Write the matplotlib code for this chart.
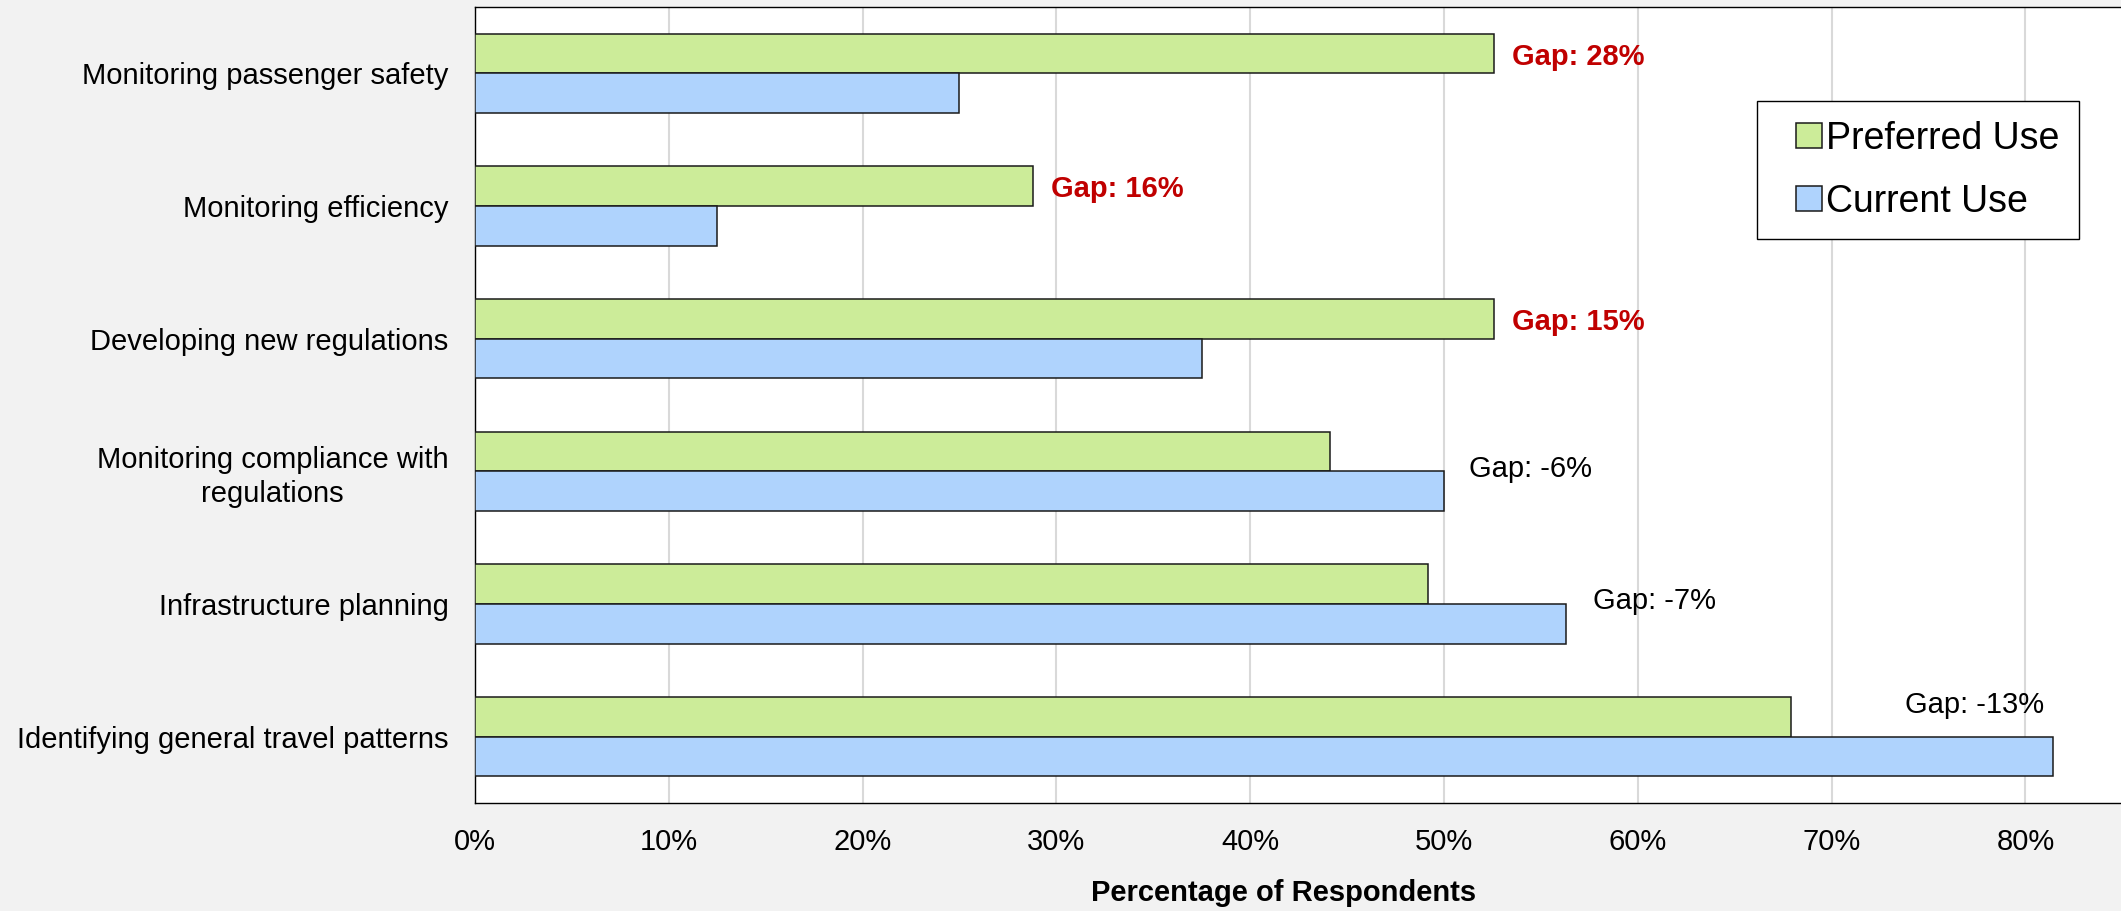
import numpy as np
import matplotlib
matplotlib.use('Agg')
import matplotlib.pyplot as plt
from matplotlib.patches import Rectangle
from matplotlib.container import BarContainer
from matplotlib.legend_handler import HandlerPatch, update_from_first_child

# chart data
categories = ['Monitoring passenger safety', 'Monitoring efficiency', 'Developing new regulations',
              'Monitoring compliance with\nregulations', 'Infrastructure planning',
              'Identifying general travel patterns']
preferredUse = [0.526, 0.288, 0.526, 0.441, 0.492, 0.679]
currentUse = [0.250, 0.125, 0.375, 0.500, 0.563, 0.814]
xticks = [0.0, 0.1, 0.2, 0.3, 0.4, 0.5, 0.6, 0.7, 0.8]
xticklabels = ['0%', '10%', '20%', '30%', '40%', '50%', '60%', '70%', '80%']

# where the gap labels sit, relative to the longer bar and the category centre
labelDx = [0.009, 0.009, 0.009, 0.013, 0.014, -0.076]
labelDy = [-0.125, -0.125, -0.125, -0.015, -0.025, -0.235]

# plot settings
greenColor = '#CCEC99'
blueColor = '#AFD3FD'
edgeColor = '#1a1a1a'
gapColor = '#C00000'
barHeight = 0.30
fontSize = 21
legendSize = 27

plt.rcParams['font.family'] = ['Liberation Sans', 'DejaVu Sans']


def squarePatch(legend, orig_handle, xdescent, ydescent, width, height, fontsize):
    # small square at the right end of the handle box
    s = 0.67 * fontsize
    return Rectangle((width - s - xdescent, (height - s) / 2 - ydescent), s, s)


fig = plt.figure(figsize=(21.21, 9.11), dpi=100, facecolor='#F2F2F2')
ax = fig.add_axes([0.2239, 0.1186, 0.7762, 0.8737])
ax.set_facecolor('white')

y = np.arange(len(categories))
ax.barh(y - barHeight / 2, preferredUse, height=barHeight, color=greenColor,
        edgecolor=edgeColor, linewidth=1.1, label='Preferred Use', zorder=3)
ax.barh(y + barHeight / 2, currentUse, height=barHeight, color=blueColor,
        edgecolor=edgeColor, linewidth=1.1, label='Current Use', zorder=3)

# gap labels
for i in range(len(categories)):
    gap = round((preferredUse[i] - currentUse[i]) * 100)
    xpos = max(preferredUse[i], currentUse[i]) + labelDx[i]
    if gap > 0:
        ax.text(xpos, y[i] + labelDy[i], 'Gap: ' + str(gap) + '%', color=gapColor,
                fontweight='bold', fontsize=fontSize, va='center', ha='left', zorder=4)
    else:
        ax.text(xpos, y[i] + labelDy[i], 'Gap: ' + str(gap) + '%', color='black',
                fontsize=fontSize, va='center', ha='left', zorder=4)

ax.set_xlim(0, 0.8494)
ax.set_ylim(len(categories) - 0.5, -0.5)
ax.set_xticks(xticks)
ax.set_xticklabels(xticklabels)
ax.set_yticks(y)
ax.set_yticklabels(categories, multialignment='center', linespacing=1.25)
ax.tick_params(axis='both', length=0, labelsize=fontSize, colors='black')
ax.tick_params(axis='x', pad=18)
ax.tick_params(axis='y', pad=19)
ax.xaxis.grid(True, color='#D9D9D9', linewidth=1.5, zorder=0)
ax.set_axisbelow(True)

for side in ['top', 'left', 'bottom']:
    ax.spines[side].set_color('black')
    ax.spines[side].set_linewidth(1.0)
ax.spines['right'].set_visible(False)

ax.set_xlabel('Percentage of Respondents', fontsize=fontSize, fontweight='bold')
ax.xaxis.set_label_coords(0.491, -0.113)
ax.xaxis.label.set_va('center')

leg = ax.legend(loc='upper left', bbox_to_anchor=(0.8284, 0.8891), bbox_transform=fig.transFigure,
                borderaxespad=0, fontsize=legendSize, frameon=True, fancybox=False, edgecolor='black',
                framealpha=1.0, borderpad=0.52, labelspacing=0.72, handlelength=1.2,
                handleheight=0.8, handletextpad=0.12,
                handler_map={BarContainer: HandlerPatch(patch_func=squarePatch,
                                                        update_func=update_from_first_child)})
leg.get_frame().set_linewidth(1.0)

fig.savefig('out.png', dpi=100, facecolor=fig.get_facecolor())
